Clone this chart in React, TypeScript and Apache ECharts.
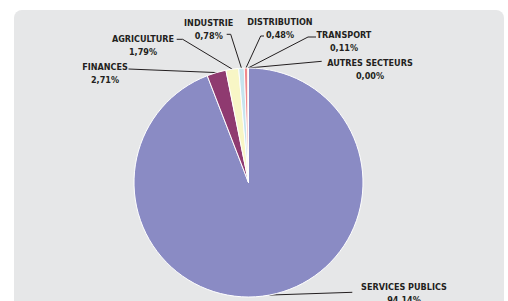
import React, { useEffect, useRef } from "react";
import * as echarts from "echarts";

// ---- Data ----
const categories: string[] = [
  "SERVICES PUBLICS",
  "FINANCES",
  "AGRICULTURE",
  "INDUSTRIE",
  "DISTRIBUTION",
  "TRANSPORT",
  "AUTRES SECTEURS",
];
const shares: number[] = [94.14, 2.71, 1.79, 0.78, 0.48, 0.11, 0.0];

// ---- Styles / layout (not data) ----
const sliceColors: string[] = [
  "#8a8bc4",
  "#8f3a70",
  "#f8f6c6",
  "#c6e4ee",
  "#ef8a8d",
  "#d9534f",
  "#b0b0b0",
];
// label block center, and label-line end + elbow points next to each label
const labelCenter: [number, number][] = [
  [404, 293.5],
  [105, 73],
  [143, 45],
  [208.7, 29.7],
  [280, 28.7],
  [344, 41.4],
  [370, 69.5],
];
const lineEnd: [number, number][] = [
  [352.3, 292.3],
  [128.5, 69],
  [176.7, 39.3],
  [226.7, 34.3],
  [264, 36],
  [316, 37],
  [321.7, 61.3],
];
const lineElbow: [number, number][] = [
  [352.3, 292.3],
  [128.5, 69],
  [182.7, 39.3],
  [230.7, 34.3],
  [260.7, 36],
  [308, 37],
  [321.7, 61.3],
];

const FONT = '"DejaVu Sans Condensed", "Liberation Sans Narrow", sans-serif';

function fmt(v: number): string {
  return v.toFixed(2).replace(".", ",") + "%";
}

export default function App() {
  const ref = useRef<HTMLDivElement>(null);
  useEffect(() => {
    if (!ref.current) return;
    const chart = echarts.init(ref.current, undefined, { renderer: "svg" });
    const textStyle = {
      fontFamily: FONT,
      fontWeight: "bold",
      fontSize: 9,
      lineHeight: 13,
      color: "#231f20",
      align: "center",
    };
    const option: any = {
      animation: false,
      graphic: [
        {
          type: "rect",
          z: -10,
          silent: true,
          shape: { x: 14, y: 10, width: 490, height: 300, r: [8, 8, 0, 0] },
          style: { fill: "#e6e7e8" },
        },
      ],
      series: [
        {
          type: "pie",
          center: [248.5, 182.5],
          radius: 114.5,
          startAngle: 90,
          clockwise: true,
          avoidLabelOverlap: false,
          minShowLabelAngle: 0,
          itemStyle: { borderColor: "#ffffff", borderWidth: 1 },
          label: {
            show: true,
            position: "outside",
            formatter: (p: any) => `{n|${p.name}}\n{v|${fmt(p.value)}}`,
            rich: { n: textStyle, v: textStyle },
          },
          labelLine: {
            show: true,
            length: 10,
            length2: 5,
            lineStyle: { color: "#231f20", width: 1 },
          },
          labelLayout: (params: any) => {
            const i = params.dataIndex;
            const pts = params.labelLinePoints;
            const start = pts && pts[0] ? pts[0] : lineElbow[i];
            return {
              x: labelCenter[i][0],
              y: labelCenter[i][1],
              align: "center",
              verticalAlign: "middle",
              labelLinePoints: [start, lineElbow[i], lineEnd[i]],
            };
          },
          data: categories.map((name, i) => ({
            name,
            value: shares[i],
            itemStyle: { color: sliceColors[i] },
          })),
        },
      ],
    };
    chart.setOption(option);
    return () => chart.dispose();
  }, []);
  return (
    <div
      ref={ref}
      style={{ position: "absolute", left: 0, top: 0, width: 508, height: 301 }}
    />
  );
}
